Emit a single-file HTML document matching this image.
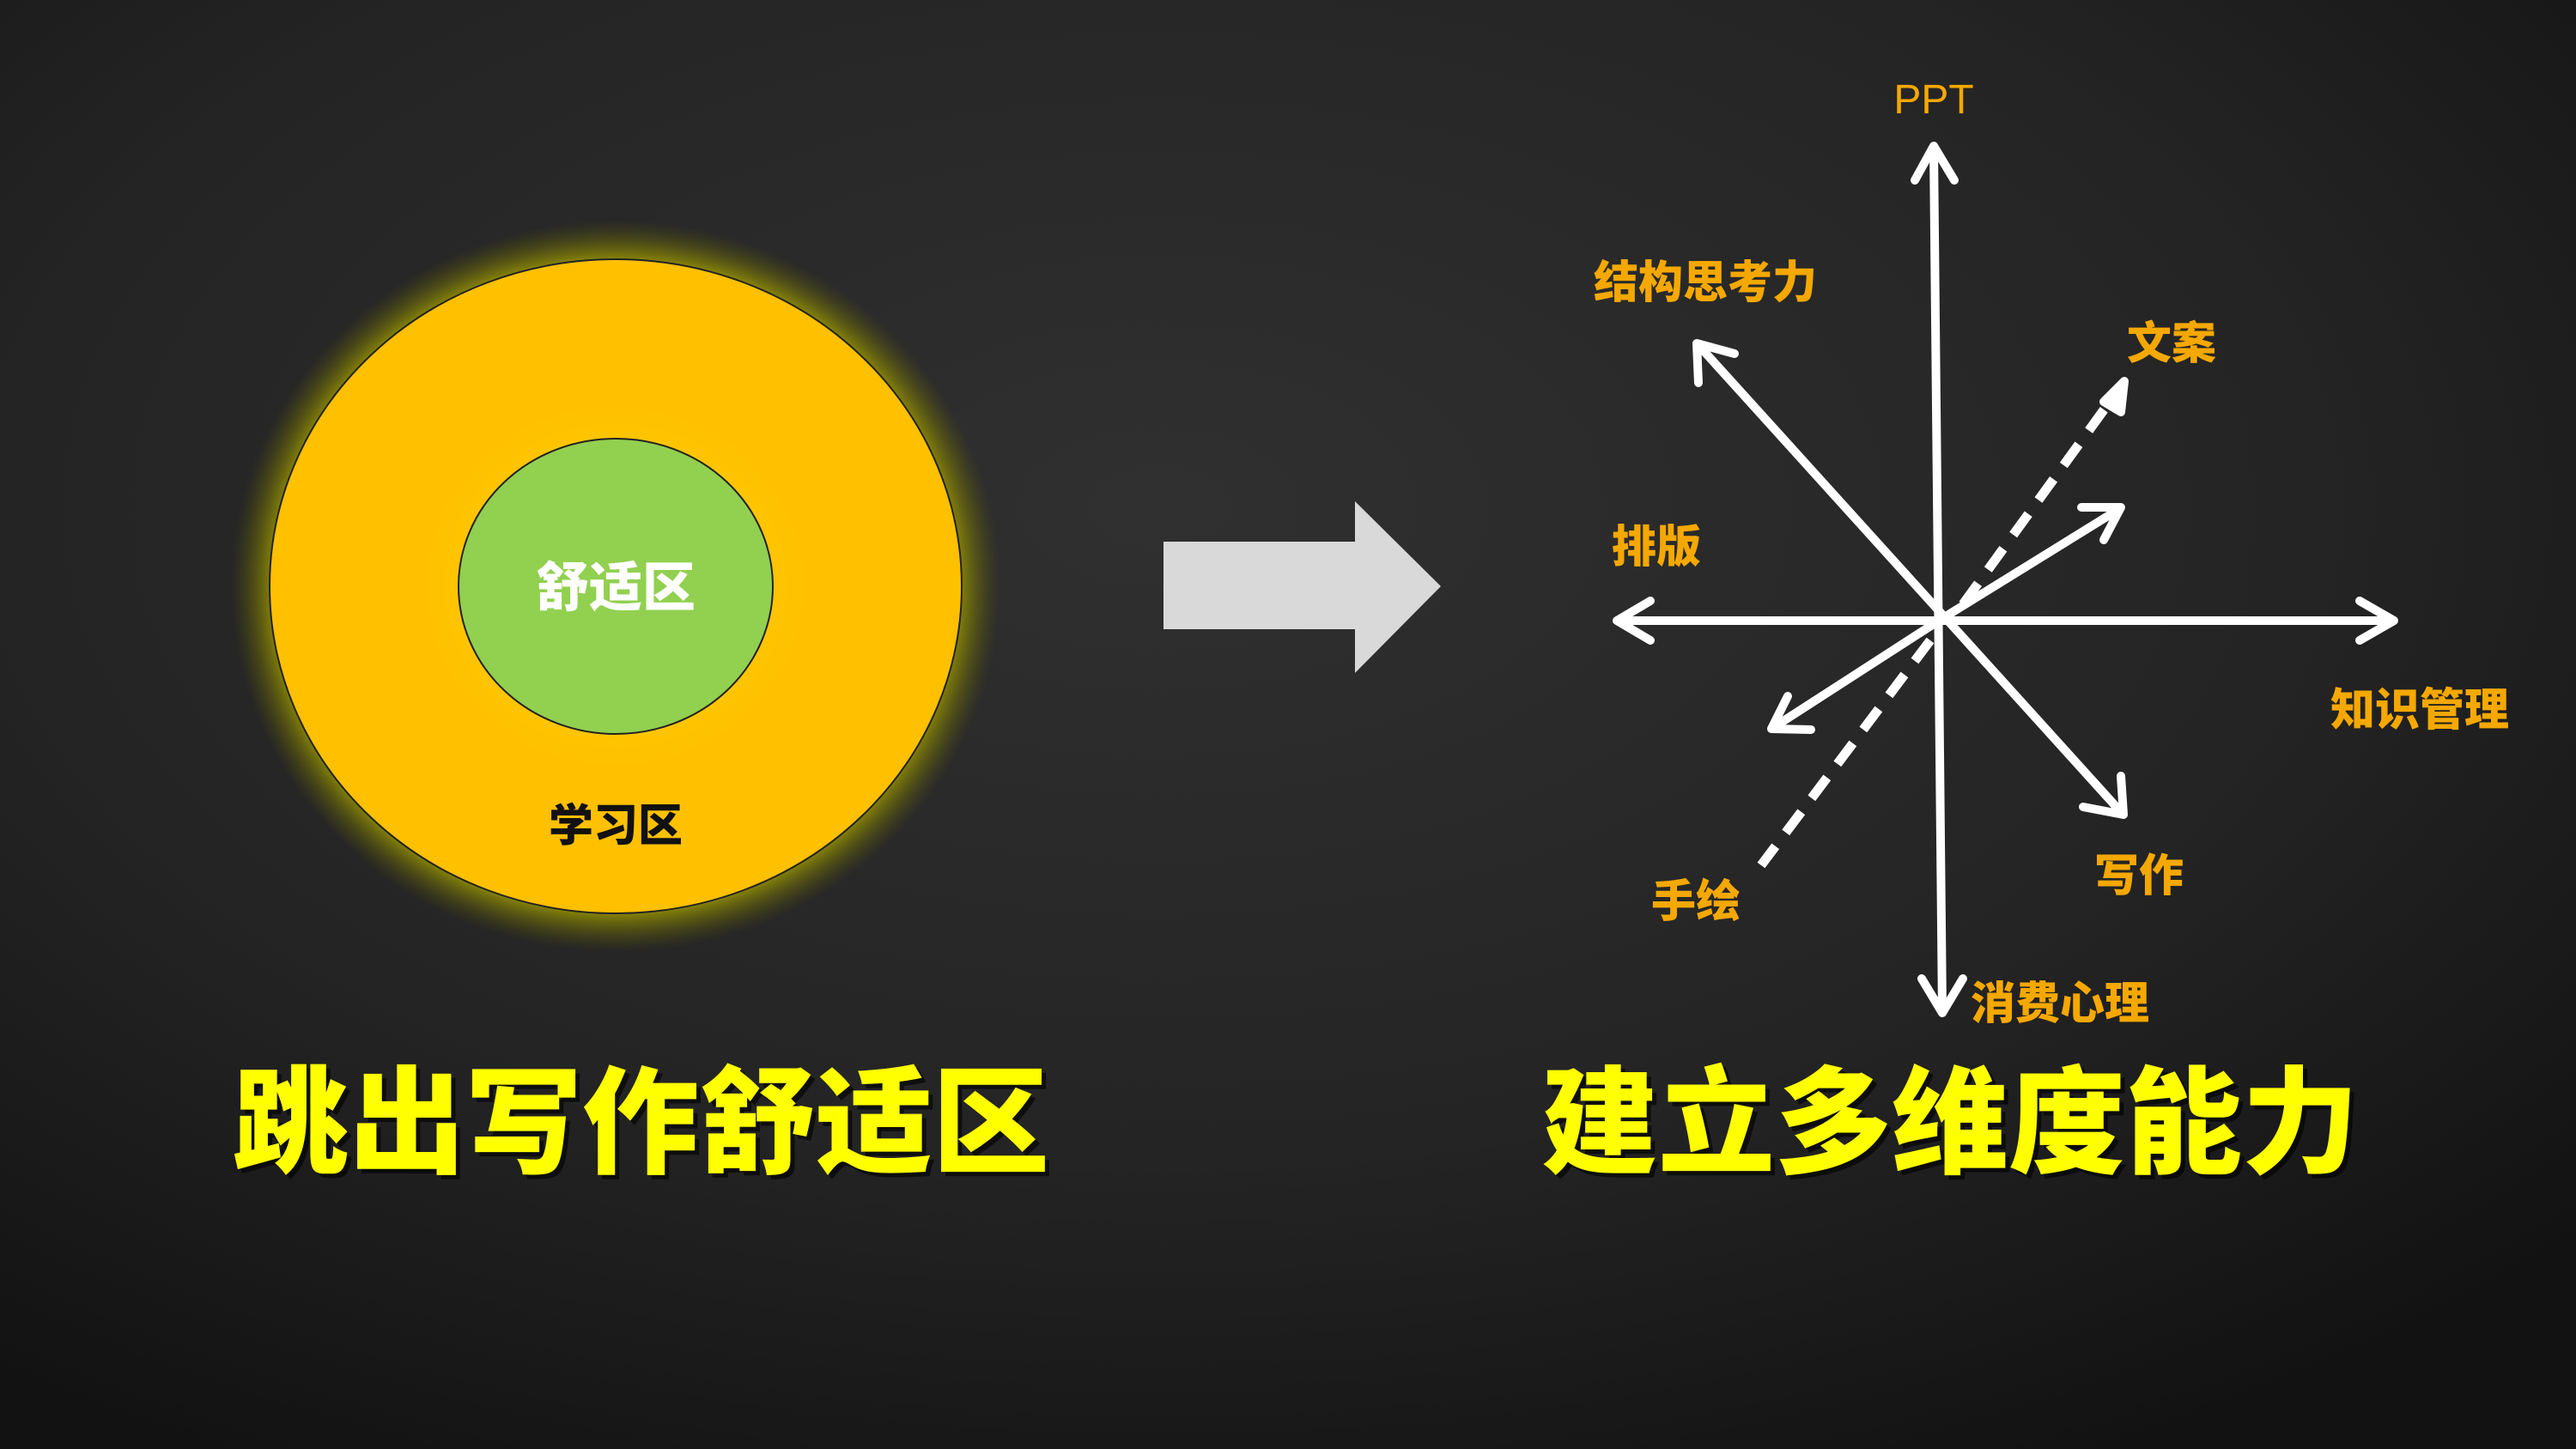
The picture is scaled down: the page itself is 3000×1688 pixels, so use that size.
<!DOCTYPE html>
<html><head><meta charset="utf-8"><style>
html,body{margin:0;padding:0;background:#1a1a1a;}
svg{display:block;}
</style></head><body>
<svg width="3000" height="1688" viewBox="0 0 3000 1688" xmlns="http://www.w3.org/2000/svg">
<defs>
<radialGradient id="bg" cx="0.45" cy="0.35" r="0.75">
<stop offset="0" stop-color="#303030"/>
<stop offset="0.6" stop-color="#242424"/>
<stop offset="1" stop-color="#121212"/>
</radialGradient>
<radialGradient id="glow" cx="0.5" cy="0.5" r="0.5">
<stop offset="0.88" stop-color="#a8a300" stop-opacity="0.9"/>
<stop offset="1" stop-color="#5a5a00" stop-opacity="0"/>
</radialGradient>
<radialGradient id="inglow" cx="0.5" cy="0.5" r="0.5">
<stop offset="0.4" stop-color="#ffe000"/>
<stop offset="1" stop-color="#ffc000" stop-opacity="0"/>
</radialGradient>
</defs>
<rect width="3000" height="1688" fill="url(#bg)"/>
<ellipse cx="717" cy="683" rx="448" ry="426" fill="url(#glow)"/>
<ellipse cx="717" cy="683" rx="403" ry="381" fill="#ffc000" stroke="#222" stroke-width="2"/>
<ellipse cx="717" cy="683" rx="240" ry="228" fill="url(#inglow)"/>
<ellipse cx="717" cy="683" rx="183" ry="172" fill="#92d050" stroke="#222" stroke-width="2"/>
<g font-family="'Liberation Sans','Noto Sans CJK SC',sans-serif" font-weight="900" text-anchor="middle">
<text x="717" y="706" font-size="62" fill="#fff">舒适区</text>
<text x="717" y="980" font-size="52" fill="#111">学习区</text>
</g>
<polygon points="1355,631 1578,631 1578,584 1678,683 1578,784 1578,733 1355,733" fill="#d9d9d9"/>
<g stroke="#fff" stroke-width="10" stroke-linecap="round" stroke-linejoin="round" fill="none">
<line x1="2252" y1="172" x2="2262" y2="1178"/>
<line x1="1885" y1="723" x2="2786" y2="723"/>
<line x1="1978" y1="402" x2="2471" y2="947"/>
<line x1="2258" y1="723" x2="2468" y2="593"/>
<line x1="2258" y1="723" x2="2066" y2="847"/>
<line x1="2286" y1="704" x2="2470" y2="450" stroke-dasharray="30,20" stroke-linecap="butt" stroke-width="11"/>
<line x1="2248" y1="746" x2="2051" y2="1008" stroke-dasharray="30,20" stroke-linecap="butt" stroke-width="11"/>
<polyline points="2230,210 2252,170 2276,210"/>
<polyline points="2238,1140 2262,1180 2286,1140"/>
<polyline points="1922,700 1883,723 1922,746"/>
<polyline points="2748,700 2788,723 2748,746"/>
<polyline points="1978,446 1976,400 2020,412"/>
<polyline points="2426,940 2473,949 2470,904"/>
<polyline points="2424,591 2470,591 2450,629"/>
<polyline points="2109,850 2063,849 2082,811"/>
<polygon points="2474,444 2450,468 2470,480" fill="#fff"/>
</g>
<g font-family="'Liberation Sans','Noto Sans CJK SC',sans-serif" text-anchor="middle" fill="#f5a800">
<text x="2252" y="132" font-size="48">PPT</text>
<g font-weight="900" font-size="52">
<text x="1986" y="347">结构思考力</text>
<text x="2529" y="418">文案</text>
<text x="1929" y="655">排版</text>
<text x="2818" y="845">知识管理</text>
<text x="2491" y="1038">写作</text>
<text x="1975" y="1068">手绘</text>
<text x="2399" y="1187">消费心理</text>
</g>
</g>
<g font-family="'Liberation Sans','Noto Sans CJK SC',sans-serif" font-weight="900" text-anchor="middle" font-size="136" fill="#ffff00">
<text x="751" y="1361" fill="#000" opacity="0.6">跳出写作舒适区</text>
<text x="746" y="1356">跳出写作舒适区</text>
<text x="2276" y="1361" fill="#000" opacity="0.6">建立多维度能力</text>
<text x="2271" y="1356">建立多维度能力</text>
</g>
</svg>
</body></html>
